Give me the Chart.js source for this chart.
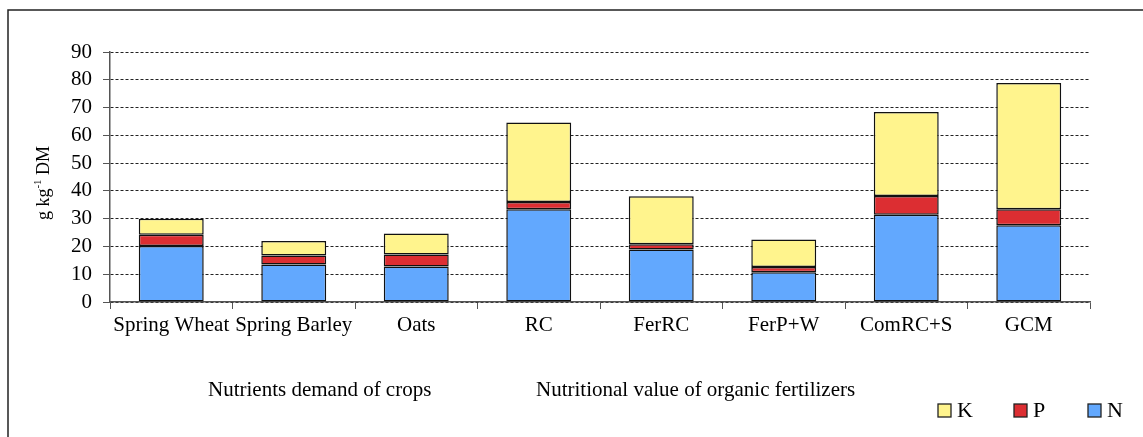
<!DOCTYPE html>
<html>
  <head>
    <title>Nutrients N, P, K</title>
    <meta charset="UTF-8">
    <style>
      body {
        margin: 0;
        background: #ffffff;
      }
      .canvas {
        width: 1143px;
        height: 437px;
        position: relative;
      }
    </style>
  </head>
  <body>
    <div class="canvas">
      <canvas id="canvas" width="1143" height="437"></canvas>
    </div>
    <script src="https://cdn.jsdelivr.net/npm/chart.js@4.4.1/dist/chart.umd.min.js"></script>
    <script>
    // crops and organic fertilizers on the x axis
    var categories = ['Spring Wheat', 'Spring Barley', 'Oats', 'RC', 'FerRC', 'FerP+W', 'ComRC+S', 'GCM'];

    // g kg-1 DM, stacked N (bottom), P, K (top)
    var nValues = [20.2, 13.5, 12.8, 33.4, 18.9, 10.7, 31.4, 27.6];
    var pValues = [4.0, 3.2, 4.3, 2.6, 1.9, 1.9, 6.8, 5.8];
    var kValues = [5.8, 5.3, 7.6, 28.6, 17.3, 9.9, 30.2, 45.4];

    // y axis 0..90 in steps of 10
    var yMin = 0;
    var yMax = 90;
    var yStep = 10;

    var groupLabels = ['Nutrients demand of crops', 'Nutritional value of organic fertilizers'];

    var serif = '"Liberation Serif", "Times New Roman", serif';

    // frame, axis title, group captions and the legend
    var decorations = {
        id: 'decorations',
        afterDraw: function (chart) {
            var ctx = chart.ctx;
            ctx.save();

            // outer frame (top and left edge)
            ctx.strokeStyle = '#222';
            ctx.lineWidth = 1.5;
            ctx.beginPath();
            ctx.moveTo(8, 437);
            ctx.lineTo(8, 10);
            ctx.lineTo(1143, 10);
            ctx.stroke();

            // y axis title with superscript
            var midY = (chart.chartArea.top + chart.chartArea.bottom) / 2 + 6;
            ctx.translate(44, midY);
            ctx.rotate(-Math.PI / 2);
            ctx.fillStyle = '#000';
            ctx.textBaseline = 'middle';
            ctx.textAlign = 'left';
            var big = '18px ' + serif;
            var small = '11px ' + serif;
            ctx.font = big;
            var w1 = ctx.measureText('g kg').width;
            var w3 = ctx.measureText(' DM').width;
            ctx.font = small;
            var w2 = ctx.measureText('-1').width;
            var x = -(w1 + w2 + w3) / 2;
            ctx.font = big;
            ctx.fillText('g kg', x, 0);
            ctx.font = small;
            ctx.fillText('-1', x + w1, -6);
            ctx.font = big;
            ctx.fillText(' DM', x + w1 + w2, 0);
            ctx.setTransform(1, 0, 0, 1, 0, 0);

            // captions for the two groups of bars
            ctx.font = '21px ' + serif;
            ctx.textBaseline = 'middle';
            ctx.textAlign = 'left';
            ctx.fillText(groupLabels[0], 208, 390);
            ctx.fillText(groupLabels[1], 536, 390);

            // legend: K, P, N from left to right
            ctx.font = '22px ' + serif;
            var items = chart.data.datasets.slice().reverse();
            var lx = [938, 1014, 1088];
            for (var i = 0; i < items.length; i++) {
                ctx.fillStyle = items[i].backgroundColor;
                ctx.fillRect(lx[i], 404, 13, 13);
                ctx.strokeStyle = '#222';
                ctx.lineWidth = 1.3;
                ctx.strokeRect(lx[i], 404, 13, 13);
                ctx.fillStyle = '#000';
                ctx.fillText(items[i].label, lx[i] + 19, 411);
            }
            ctx.restore();
        }
    };

    var ctx = document.getElementById('canvas').getContext('2d');
    var chart = new Chart(ctx, {
        type: 'bar',
        data: {
            labels: categories,
            datasets: [
                {
                    label: 'N',
                    data: nValues,
                    backgroundColor: '#62a8fe',
                    borderColor: '#111',
                    borderWidth: 1.5,
                    borderSkipped: false
                },
                {
                    label: 'P',
                    data: pValues,
                    backgroundColor: '#dc2e32',
                    borderColor: '#111',
                    borderWidth: 1.5,
                    borderSkipped: false
                },
                {
                    label: 'K',
                    data: kValues,
                    backgroundColor: '#fff48d',
                    borderColor: '#111',
                    borderWidth: 1.5,
                    borderSkipped: false
                }
            ]
        },
        options: {
            responsive: false,
            animation: false,
            layout: {
                padding: { top: 52, right: 53, bottom: 99, left: 0 }
            },
            datasets: {
                bar: {
                    categoryPercentage: 1,
                    barPercentage: 0.53
                }
            },
            plugins: {
                legend: { display: false },
                tooltip: { enabled: false }
            },
            scales: {
                x: {
                    stacked: true,
                    offset: true,
                    grid: {
                        offset: true,
                        drawOnChartArea: false,
                        tickLength: 7,
                        tickColor: '#555'
                    },
                    border: { color: '#555', width: 1.5 },
                    ticks: {
                        autoSkip: false,
                        maxRotation: 0,
                        padding: 4,
                        color: '#000',
                        font: { family: serif, size: 21 }
                    },
                    afterFit: function (scale) {
                        scale.height = 36;
                    }
                },
                y: {
                    stacked: true,
                    min: yMin,
                    max: yMax,
                    grid: {
                        color: '#222',
                        lineWidth: 1,
                        tickLength: 7,
                        tickColor: '#555',
                        tickBorderDash: []
                    },
                    border: { color: '#555', width: 1.5, dash: [3, 2] },
                    ticks: {
                        stepSize: yStep,
                        autoSkip: false,
                        padding: 11,
                        color: '#000',
                        font: { family: serif, size: 21 }
                    },
                    afterFit: function (scale) {
                        scale.width = 110;
                    }
                }
            }
        },
        plugins: [decorations]
    });
    </script>
  </body>
</html>
